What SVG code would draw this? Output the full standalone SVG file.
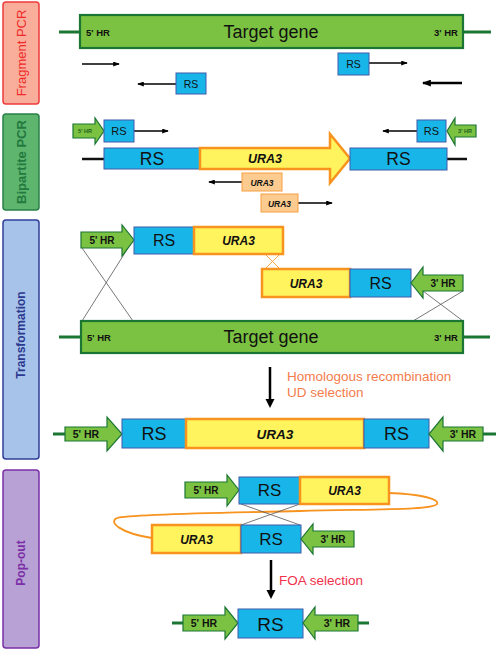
<svg xmlns="http://www.w3.org/2000/svg" width="498" height="651" viewBox="0 0 498 651">
<defs>
<marker id="ah" viewBox="0 0 8 6" refX="7" refY="3" markerWidth="7" markerHeight="5" markerUnits="userSpaceOnUse" orient="auto"><path d="M0,0 L8,3 L0,6 z" fill="#000"/></marker>
<marker id="ahb" viewBox="0 0 8 6" refX="7" refY="3" markerWidth="9" markerHeight="7" markerUnits="userSpaceOnUse" orient="auto"><path d="M0,0 L8,3 L0,6 z" fill="#000"/></marker>
</defs>
<style>
text{font-family:"Liberation Sans",Arial,sans-serif;fill:#111;text-anchor:middle}
.gene{fill:#7CC242;stroke:#1B7634;stroke-width:2.2}
.hr{fill:#7CC242;stroke:#1B7634;stroke-width:1.2}
.rs{fill:#18B6E8;stroke:#3E5BAA;stroke-width:1}
.ura{fill:#FFF35E;stroke:#F7931E;stroke-width:2.5}
.uras{fill:#FCCB90;stroke:#F7A040;stroke-width:1}
.dna{stroke:#1B7634;stroke-width:3;fill:none}
.blk{stroke:#111;stroke-width:2.5;fill:none}
.pr{stroke:#000;stroke-width:1.5;fill:none;marker-end:url(#ah)}
.prb{stroke:#000;stroke-width:2.5;fill:none;marker-end:url(#ahb)}
.x{stroke:#555;stroke-width:0.8;fill:none}
.xo{stroke:#F7931E;stroke-width:0.8;fill:none}
.loop{stroke:#F7931E;stroke-width:1.8;fill:none}
.hrt{font-size:10px;font-weight:bold}
.ut{font-style:italic;font-weight:bold}
.side{font-size:13px}
</style>

<!-- side labels -->
<g id="label-fragment">
<rect x="3" y="2" width="36" height="102" rx="3" fill="#F9AE9B" stroke="#EE3B3B" stroke-width="1.5"/>
<text class="side" transform="translate(25.5,53) rotate(-90)" style="fill:#EE2A2A">Fragment PCR</text>
</g>
<g id="label-bipartite">
<rect x="3" y="114" width="36" height="96" rx="3" fill="#5DB56E" stroke="#2B8048" stroke-width="1.5"/>
<text class="side" transform="translate(25.5,162) rotate(-90)" style="fill:#23793E;font-weight:bold">Bipartite PCR</text>
</g>
<g id="label-transformation">
<rect x="3" y="220" width="36" height="239" rx="3" fill="#A8C3E9" stroke="#2F3F99" stroke-width="1.5"/>
<text transform="translate(25,335) rotate(-90)" style="fill:#2B3990;font-weight:bold;font-size:12px">Transformation</text>
</g>
<g id="label-popout">
<rect x="3" y="470" width="36" height="178" rx="3" fill="#B8A1D4" stroke="#7A2FA6" stroke-width="1.5"/>
<text transform="translate(25,563) rotate(-90)" style="fill:#7A2FA6;font-weight:bold;font-size:12px">Pop-out</text>
</g>

<!-- connectors -->
<g id="connectors">
<!-- DNA stubs -->
<line class="dna" x1="59" y1="32" x2="80" y2="32"/>
<line class="dna" x1="463" y1="32" x2="491" y2="32"/>
<line class="blk" x1="82" y1="159" x2="104" y2="159"/>
<line class="blk" x1="447" y1="159" x2="467" y2="159"/>
<line class="dna" x1="59" y1="337" x2="81" y2="337"/>
<line class="dna" x1="463" y1="337" x2="490" y2="337"/>
<line class="dna" x1="53" y1="434" x2="65" y2="434"/>
<line class="dna" x1="483" y1="434" x2="496" y2="434"/>
<line class="dna" x1="172" y1="623" x2="183" y2="623"/>
<line class="dna" x1="358" y1="623" x2="369" y2="623"/>
<!-- primers fragment PCR -->
<line class="pr" x1="82" y1="64" x2="119" y2="64"/>
<line class="pr" x1="176" y1="84" x2="138" y2="84"/>
<line class="pr" x1="369" y1="63" x2="407" y2="63"/>
<line class="prb" x1="462" y1="83" x2="423" y2="83"/>
<!-- primers bipartite -->
<line class="pr" x1="134" y1="131" x2="168" y2="131"/>
<line class="pr" x1="417" y1="131" x2="383" y2="131"/>
<line class="pr" x1="242" y1="182" x2="209" y2="182"/>
<line class="pr" x1="298" y1="203" x2="332" y2="203"/>
<!-- crossovers transformation -->
<line class="x" x1="82" y1="248" x2="133" y2="321"/>
<line class="x" x1="128" y1="248" x2="82" y2="321"/>
<line class="x" x1="423" y1="291" x2="463" y2="321"/>
<line class="x" x1="463" y1="291" x2="413" y2="321"/>
<line class="xo" x1="265" y1="254" x2="280" y2="269"/>
<line class="xo" x1="280" y1="254" x2="265" y2="269"/>
<!-- pop-out loop and crossover -->
<path class="loop" d="M389,493 C420,494 440,499 437,504 C433,510 380,509 300,511 C220,513 130,514 117,518 C108,522 120,533 152,538"/>
<line class="x" x1="241" y1="504" x2="300" y2="525"/>
<line class="x" x1="300" y1="504" x2="241" y2="525"/>
<!-- process arrows -->
<line x1="270" y1="367" x2="270" y2="400" stroke="#000" stroke-width="2.5"/>
<polygon points="265.5,399 274.5,399 270,408" fill="#000"/>
<line x1="271" y1="560" x2="271" y2="591" stroke="#000" stroke-width="2.5"/>
<polygon points="266.5,590 275.5,590 271,599" fill="#000"/>
</g>

<!-- Fragment PCR -->
<g id="target-gene-1">
<rect class="gene" x="80" y="15" width="383" height="33"/>
<text x="98" y="36" class="hrt" style="font-size:9.5px">5' HR</text>
<text x="271" y="38" style="font-size:18px">Target gene</text>
<text x="446" y="36" class="hrt" style="font-size:9.5px">3' HR</text>
</g>
<g id="rs-primer-1">
<rect class="rs" x="176" y="73" width="30" height="21"/>
<text x="191" y="87.5" style="font-size:10.5px">RS</text>
</g>
<g id="rs-primer-2">
<rect class="rs" x="338" y="53" width="31" height="22"/>
<text x="353.5" y="68" style="font-size:10.5px">RS</text>
</g>

<!-- Bipartite PCR -->
<g id="hr5-primer">
<polygon class="hr" points="73,124 95,124 95,118 104,131 95,144 95,138 73,138"/>
<text x="85" y="133" class="hrt" style="font-size:5.5px;fill:#1B5E20">5' HR</text>
</g>
<g id="rs-primer-3">
<rect class="rs" x="104" y="120" width="30" height="22"/>
<text x="119" y="135" style="font-size:11px">RS</text>
</g>
<g id="rs-primer-4">
<rect class="rs" x="417" y="120" width="29" height="22"/>
<text x="431.5" y="135" style="font-size:11px">RS</text>
</g>
<g id="hr3-primer">
<polygon class="hr" points="476,125 455,125 455,118 447,131 455,145 455,137 476,137"/>
<text x="465" y="133" class="hrt" style="font-size:5.5px;fill:#1B5E20">3' HR</text>
</g>
<g id="bipartite-rs-left">
<rect class="rs" x="104" y="148" width="96" height="21"/>
<text x="152" y="165" style="font-size:17.5px">RS</text>
</g>
<g id="bipartite-ura3">
<polygon class="ura" points="200,148 330,148 330,134 350,158.5 330,183 330,169 200,169"/>
<text x="265" y="163" class="ut" style="font-size:12.5px">URA3</text>
</g>
<g id="bipartite-rs-right">
<rect class="rs" x="350" y="148" width="97" height="22"/>
<text x="398.5" y="165" style="font-size:17.5px">RS</text>
</g>
<g id="ura3-primer-1">
<rect class="uras" x="242" y="173" width="40" height="18"/>
<text x="262" y="185.5" class="ut" style="font-size:8.5px">URA3</text>
</g>
<g id="ura3-primer-2">
<rect class="uras" x="261" y="194" width="37" height="18"/>
<text x="279.5" y="206.5" class="ut" style="font-size:8.5px">URA3</text>
</g>

<!-- Transformation -->
<g id="t-fragment-1">
<polygon class="hr" points="81,232 122,232 122,225 134,240 122,256 122,248 81,248"/>
<text x="102" y="244" class="hrt">5' HR</text>
<rect class="rs" x="134" y="227" width="60" height="27"/>
<text x="164" y="246" style="font-size:16px">RS</text>
<rect class="ura" x="194" y="227" width="89" height="27"/>
<text x="238.5" y="245" class="ut" style="font-size:12px">URA3</text>
</g>
<g id="t-fragment-2">
<rect class="ura" x="262" y="269" width="88" height="28"/>
<text x="306" y="288" class="ut" style="font-size:12px">URA3</text>
<rect class="rs" x="350" y="269" width="61" height="28"/>
<text x="380.5" y="289" style="font-size:16px">RS</text>
<polygon class="hr" points="463,275 423,275 423,267 411,283 423,298 423,291 463,291"/>
<text x="443" y="287" class="hrt">3' HR</text>
</g>
<g id="target-gene-2">
<rect class="gene" x="81" y="321" width="382" height="32"/>
<text x="99" y="341" class="hrt" style="font-size:9.5px">5' HR</text>
<text x="271" y="343" style="font-size:18px">Target gene</text>
<text x="446" y="341" class="hrt" style="font-size:9.5px">3' HR</text>
</g>
<g id="step-label-1">
<text x="287" y="381" style="font-size:13.5px;fill:#F47C4C;text-anchor:start">Homologous recombination</text>
<text x="287" y="397" style="font-size:13.5px;fill:#F47C4C;text-anchor:start">UD selection</text>
</g>

<!-- Integrated locus -->
<g id="integrated-locus">
<polygon class="hr" points="65,427 107,427 107,417 122,434 107,451 107,441 65,441"/>
<text x="86" y="438" class="hrt" style="font-size:10.5px">5' HR</text>
<rect class="rs" x="122" y="419" width="64" height="29"/>
<text x="154" y="440" style="font-size:18px">RS</text>
<rect class="ura" x="186" y="419" width="178" height="29"/>
<text x="275" y="439" class="ut" style="font-size:13.5px">URA3</text>
<rect class="rs" x="364" y="419" width="65" height="29"/>
<text x="396.5" y="440" style="font-size:18px">RS</text>
<polygon class="hr" points="483,427 443,427 443,417 429,434 443,451 443,441 483,441"/>
<text x="463" y="438" class="hrt" style="font-size:10.5px">3' HR</text>
</g>

<!-- Pop-out -->
<g id="p-strand-1">
<polygon class="hr" points="185,482 227,482 227,475 239,490 227,506 227,498 185,498"/>
<text x="206" y="494" class="hrt">5' HR</text>
<rect class="rs" x="239" y="477" width="61" height="27"/>
<text x="269.5" y="496" style="font-size:17px">RS</text>
<rect class="ura" x="300" y="477" width="89" height="27"/>
<text x="344.5" y="495" class="ut" style="font-size:12px">URA3</text>
</g>
<g id="p-strand-2">
<rect class="ura" x="152" y="525" width="89" height="28"/>
<text x="196.5" y="544" class="ut" style="font-size:12px">URA3</text>
<rect class="rs" x="241" y="525" width="60" height="28"/>
<text x="271" y="545" style="font-size:17px">RS</text>
<polygon class="hr" points="354,531 313,531 313,524 301,539 313,554 313,547 354,547"/>
<text x="333" y="543" class="hrt">3' HR</text>
</g>
<g id="step-label-2">
<text x="279" y="585" style="font-size:13.5px;fill:#F0304C;text-anchor:start">FOA selection</text>
</g>
<g id="final-locus">
<polygon class="hr" points="183,615 225,615 225,607 238,623 225,639 225,631 183,631"/>
<text x="204" y="627" class="hrt" style="font-size:10.5px">5' HR</text>
<rect class="rs" x="238" y="609" width="65" height="29"/>
<text x="270.5" y="630.5" style="font-size:19px">RS</text>
<polygon class="hr" points="358,615 315,615 315,607 303,623 315,639 315,631 358,631"/>
<text x="337" y="627" class="hrt" style="font-size:10.5px">3' HR</text>
</g>
</svg>
